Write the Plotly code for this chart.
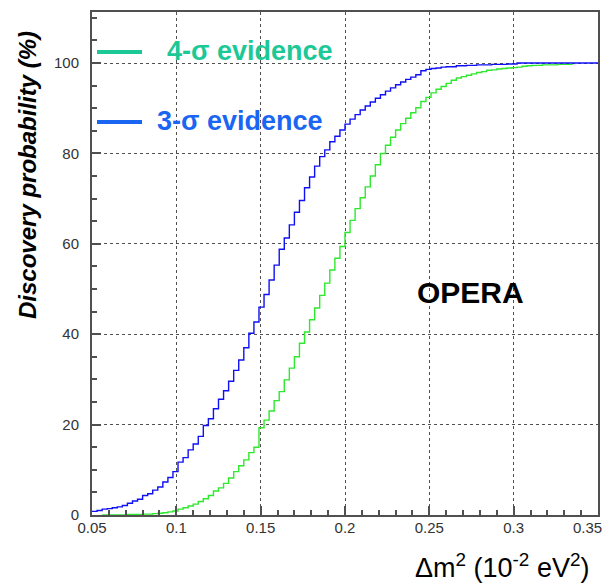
import plotly.graph_objects as go

# ---------------- data ----------------
bin_width = 0.003
x_start = 0.05

# 3-sigma evidence (blue), bins starting at 0.050
blue_vals = [
    0.8, 1.0, 1.3, 1.4, 1.6, 1.8, 2.1, 2.6, 3.1, 3.5,
    4.3, 4.7, 5.5, 6.2, 7.3, 8.3, 9.6, 11.7, 12.7, 14.4,
    15.7, 17.4, 19.8, 21.3, 23.5, 25.6, 27.5, 29.6, 32.0, 34.3,
    37.0, 40.2, 42.7, 46.0, 48.8, 52.0, 55.3, 58.8, 61.3, 64.2,
    67.0, 69.6, 72.4, 74.8, 77.2, 79.3, 80.8, 82.6, 83.8, 85.2,
    86.5, 87.6, 88.6, 89.6, 90.5, 91.4, 92.2, 93.0, 93.8, 94.5,
    95.2, 95.8, 96.4, 96.9, 97.4, 98.3, 98.6, 98.8, 98.9, 99.1,
    99.2, 99.2, 99.4, 99.4, 99.5, 99.5, 99.6, 99.6, 99.6, 99.7,
    99.7, 99.7, 99.8, 99.8, 100, 100, 100, 100, 100, 100,
    100, 100, 100, 100, 100, 100, 100, 100, 100, 100,
]

# 4-sigma evidence (green), bins starting at 0.056
green_start = 0.056
green_vals = [
    0, 0, 0, 0, 0, 0.1, 0.1, 0.1,
    0.2, 0.2, 0.3, 0.4, 0.5, 0.7, 0.9, 1.3, 1.6, 2.0,
    2.4, 3.0, 3.6, 4.3, 5.3, 6.0, 7.0, 8.2, 9.6, 10.9,
    12.2, 13.8, 15.0, 19.3, 21.0, 23.0, 25.3, 27.3, 29.9, 32.5,
    35.0, 38.0, 40.5, 43.2, 45.8, 48.6, 51.3, 54.2, 56.8, 59.4,
    62.5, 65.2, 67.8, 70.2, 72.6, 75.0, 77.5, 80.0, 81.8, 83.6,
    85.2, 86.6, 87.8, 89.0, 90.1, 91.5, 92.4, 93.4, 94.2, 94.8,
    95.5, 96.2, 96.7, 97.0, 97.3, 97.6, 97.9, 98.1, 98.4, 98.5,
    98.7, 98.8, 98.9, 99.0, 99.1, 99.3, 99.4, 99.5, 99.5, 99.6,
    99.6, 99.6, 99.7, 99.7, 99.7,
]

x_ticks = [0.05, 0.1, 0.15, 0.2, 0.25, 0.3, 0.35]
x_tick_text = ["0.05", "0.1", "0.15", "0.2", "0.25", "0.3", "0.35"]
y_ticks = [0, 20, 40, 60, 80, 100]
y_tick_text = ["0", "20", "40", "60", "80", "100"]

legend_labels = ["4-σ evidence", "3-σ evidence"]
experiment = "OPERA"
y_title = "Discovery probability (%)"
x_title = "Δm<sup>2</sup> (10<sup>-2</sup> eV<sup>2</sup>)"


def step_xy(start, vals):
    xs = [round(start + i * bin_width, 6) for i in range(len(vals) + 1)]
    ys = list(vals) + [vals[-1]]
    return xs, ys


bx, by = step_xy(x_start, blue_vals)
gx, gy = step_xy(green_start, green_vals)

BLUE = "#1010f5"
GREEN = "#2ee82e"
LEG_GREEN = "#1cc896"
LEG_BLUE = "#1a66f2"
AXC = "#505050"
TICKC = "#333333"
FONT = "Liberation Sans, Arial, sans-serif"

# page geometry (browser body has an 8px margin)
W, H = 597, 577
PX0, PX1, PY0, PY1 = 92, 598, 12, 515  # plot area in page pixels
L, T = PX0 - 8, PY0 - 8
R = W - (PX1 - 8)
B = H - (PY1 - 8)


def px(xp):
    return (xp - PX0) / (PX1 - PX0)


def py(yp):
    return (PY1 - yp) / (PY1 - PY0)


fig = go.Figure()
fig.add_trace(go.Scatter(x=gx, y=gy, mode="lines", line=dict(color=GREEN, width=1.4, shape="hv"),
                         showlegend=False, hoverinfo="skip"))
fig.add_trace(go.Scatter(x=bx, y=by, mode="lines", line=dict(color=BLUE, width=1.4, shape="hv"),
                         showlegend=False, hoverinfo="skip"))

# legend (line sample + coloured label) drawn inside the frame
leg_rows = [(legend_labels[0], LEG_GREEN, 51, 165), (legend_labels[1], LEG_BLUE, 121, 155)]
for label, col, yc, xl in leg_rows:
    fig.add_shape(type="line", xref="paper", yref="paper", x0=px(97), x1=px(142), y0=py(yc + 1),
                  y1=py(yc + 1), line=dict(color=col, width=4))
    fig.add_annotation(x=px(xl), y=py(yc), xref="paper", yref="paper", text="<b>%s</b>" % label,
                       showarrow=False, xanchor="left", yanchor="middle",
                       font=dict(family=FONT, size=27, color=col))

fig.add_annotation(x=px(470), y=py(292), xref="paper", yref="paper", text="<b>%s</b>" % experiment,
                   showarrow=False, xanchor="center", yanchor="middle",
                   font=dict(family=FONT, size=30, color="black"))

# axis titles
fig.add_annotation(x=px(27), y=py(175), xref="paper", yref="paper", text="<b><i>%s</i></b>" % y_title,
                   showarrow=False, textangle=-90, xanchor="center", yanchor="middle",
                   font=dict(family=FONT, size=24, color="black"))
fig.add_annotation(x=px(591), y=py(566), xref="paper", yref="paper", text=x_title, showarrow=False,
                   xanchor="right", yanchor="middle", font=dict(family=FONT, size=27, color="black"))

# last x tick label sits at the very edge of the window: draw it right-aligned to keep it whole
fig.add_annotation(x=px(604), y=py(527), xref="paper", yref="paper", text=x_tick_text[-1],
                   showarrow=False, xanchor="right", yanchor="middle",
                   font=dict(family=FONT, size=15, color=TICKC))
shown_x_text = x_tick_text[:-1] + [""]

axis_common = dict(
    showline=True, linecolor=AXC, linewidth=2, mirror=True,
    ticks="inside", ticklen=9, tickcolor=AXC, tickwidth=1.5,
    showgrid=True, gridcolor=AXC, griddash="dot", gridwidth=1,
    zeroline=False, tickfont=dict(family=FONT, size=15, color=TICKC),
)

fig.update_xaxes(range=[0.05, 0.35], tickvals=x_ticks, ticktext=shown_x_text, ticklabelstandoff=-2,
                 minor=dict(dtick=0.01, tick0=0.05, ticks="inside", ticklen=5, tickcolor=AXC,
                            showgrid=False),
                 **axis_common)
fig.update_yaxes(range=[0, 111.3], tickvals=y_ticks, ticktext=y_tick_text, ticklabelstandoff=8,
                 minor=dict(dtick=5, tick0=0, ticks="inside", ticklen=5, tickcolor=AXC,
                            showgrid=False),
                 **axis_common)

fig.update_layout(
    width=W, height=H,
    margin=dict(l=L, r=R, t=T, b=B, autoexpand=False),
    paper_bgcolor="white", plot_bgcolor="white",
    font=dict(family=FONT),
    showlegend=False,
)

fig.write_html("out.html")
